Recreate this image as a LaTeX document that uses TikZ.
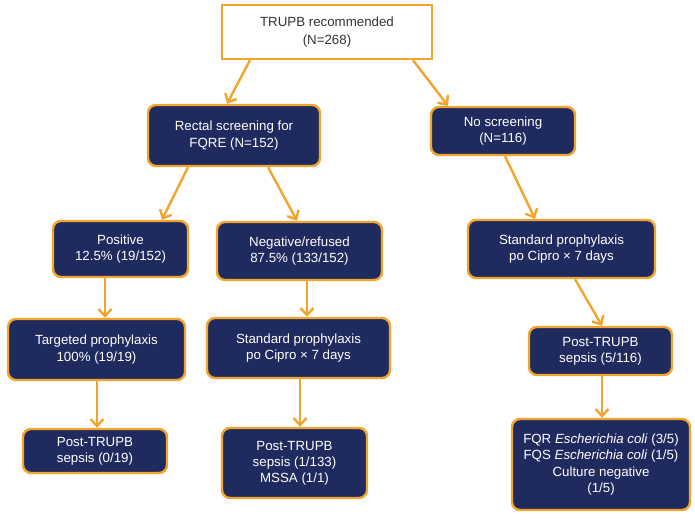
\documentclass[tikz,border=0pt]{standalone}
\usepackage{fontspec}
\setmainfont{Liberation Sans}
\usepackage{xcolor}
\definecolor{navyfill}{HTML}{1F2B5E}
\definecolor{orangeline}{HTML}{F2A42C}
\usepackage{tikz}
\usetikzlibrary{arrows.meta, positioning, calc}

\begin{document}
\begin{tikzpicture}[
  x=1pt, y=-1pt,
  box/.style={
    rectangle, rounded corners=8pt, draw=orangeline, line width=2.4pt,
    fill=navyfill, text=white, align=center, inner sep=0pt,
    font=\fontsize{13.3}{16.2}\selectfont
  },
  topbox/.style={
    rectangle, draw=orangeline, line width=2.4pt, fill=white,
    text=black!80, align=center, inner sep=0pt,
    font=\fontsize{13.3}{17.5}\selectfont
  },
  arrow/.style={-{Straight Barb[length=7pt, width=13pt]}, line width=2.4pt, color=orangeline},
]
  \useasboundingbox (0,0) rectangle (695,521);

  \node[topbox, minimum width=210pt, minimum height=54pt] (trupb) at (327,32)
    {TRUPB recommended\\(N=268)};
  \node[box, minimum width=172pt, minimum height=61pt] (rectal) at (234,135.5)
    {Rectal screening for\\FQRE (N=152)};
  \node[box, minimum width=144pt, minimum height=48pt] (noscreen) at (503,131)
    {No screening\\(N=116)};
  \node[box, minimum width=135pt, minimum height=56pt] (positive) at (120.5,249)
    {Positive\\12.5\% (19/152)};
  \node[box, minimum width=165pt, minimum height=58pt] (negative) at (299.5,251)
    {Negative/refused\\87.5\% (133/152)};
  \node[box, minimum width=187pt, minimum height=58pt] (stdright) at (561.5,249)
    {Standard prophylaxis\\po Cipro × 7 days};
  \node[box, minimum width=177pt, minimum height=61pt] (targeted) at (96.5,349.5)
    {Targeted prophylaxis\\100\% (19/19)};
  \node[box, minimum width=183pt, minimum height=60pt] (stdmid) at (298.5,348)
    {Standard prophylaxis\\po Cipro × 7 days};
  \node[box, minimum width=143pt, minimum height=48pt] (sepsright) at (600.5,351)
    {Post-TRUPB\\sepsis (5/116)};
  \node[box, minimum width=144pt, minimum height=44pt] (sepsleft) at (95,451)
    {Post-TRUPB\\sepsis (0/19)};
  \node[box, minimum width=145pt, minimum height=70pt] (sepsmid) at (294.5,463)
    {Post-TRUPB\\sepsis (1/133)\\MSSA (1/1)};
  \node[box, minimum width=178pt, minimum height=91pt] (organisms) at (601,464.5)
    {FQR \textit{Escherichia coli} (3/5)\\FQS \textit{Escherichia coli} (1/5)\\Culture negative\\(1/5)};

  \draw[arrow] ([xshift=-77pt]trupb.south)    -- ([xshift=-7pt]rectal.north);
  \draw[arrow] ([xshift=86pt]trupb.south)     -- ([xshift=-55pt]noscreen.north);
  \draw[arrow] ([xshift=-46pt]rectal.south)   -- ([xshift=41.5pt]positive.north);
  \draw[arrow] ([xshift=34pt]rectal.south)    -- ([xshift=-2.5pt]negative.north);
  \draw[arrow] ([xshift=2pt]noscreen.south)   -- ([xshift=-26.5pt]stdright.north);
  \draw[arrow] ([xshift=-15.5pt]positive.south) -- ([xshift=8.5pt]targeted.north);
  \draw[arrow] ([xshift=7.5pt]negative.south) -- ([xshift=8.5pt]stdmid.north);
  \draw[arrow] ([xshift=13.5pt]stdright.south) -- ([xshift=1.5pt]sepsright.north);
  \draw[arrow] ([xshift=0.5pt]targeted.south) -- ([xshift=2pt]sepsleft.north);
  \draw[arrow] ([xshift=1.5pt]stdmid.south)   -- ([xshift=5.5pt]sepsmid.north);
  \draw[arrow] ([xshift=1.5pt]sepsright.south) -- ([xshift=1pt]organisms.north);
\end{tikzpicture}
\end{document}
